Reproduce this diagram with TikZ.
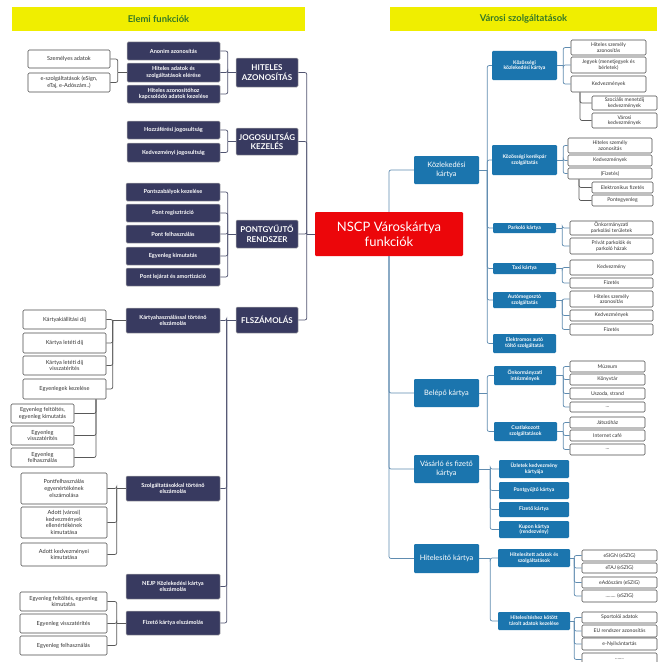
\documentclass[tikz,border=0pt]{standalone}
\usepackage{fontspec}
\setmainfont{Lato}
\definecolor{navybox}{RGB}{56,58,96}
\definecolor{cityblue}{RGB}{27,117,174}
\definecolor{hubred}{RGB}{236,6,10}
\definecolor{bandyellow}{RGB}{240,238,0}
\definecolor{bandgreen}{RGB}{52,120,40}
\definecolor{linenavy}{RGB}{80,84,112}
\definecolor{lineblue}{RGB}{96,140,176}
\tikzset{
  base/.style={rectangle, rounded corners=1.2pt, inner sep=0.5pt, align=center},
  navy/.style={base, fill=navybox, draw=black!30, line width=0.5pt, text=white,
    font=\bfseries\fontsize{5.6}{6.6}\selectfont},
  head/.style={base, fill=navybox, draw=black!30, line width=0.5pt, text=white,
    font=\bfseries\fontsize{8}{9.4}\selectfont},
  wbox/.style={base, fill=white, draw=black!70, line width=0.6pt, text=black!80,
    font=\fontsize{5.6}{6.6}\selectfont},
  wsm/.style={wbox, font=\fontsize{5.1}{5.7}\selectfont},
  bsm/.style={base, fill=cityblue, text=white, font=\bfseries\fontsize{5.1}{5.9}\selectfont},
  bbig/.style={base, fill=cityblue, text=white, font=\fontsize{7.4}{8.8}\selectfont},
  hub/.style={base, fill=hubred, text=white, font=\fontsize{13}{15}\selectfont},
  band/.style={rectangle, fill=bandyellow, text=bandgreen, font=\bfseries\fontsize{9.4}{11}\selectfont},
  lconn/.style={draw=linenavy, line width=0.7pt, rounded corners=2pt},
  rconn/.style={draw=lineblue, line width=0.7pt, rounded corners=2pt},
  kconn/.style={draw=black!65, line width=0.7pt, rounded corners=2pt},
}
% box given by its corners (x1,y1) and (x2,y2), y growing downwards
\newcommand\bx[7]{\node[#1, minimum width={(#5)-(#3)}, minimum height={(#6)-(#4)}]
  (#2) at ({((#3)+(#5))/2},{((#4)+(#6))/2}) {#7};}
\begin{document}
\begin{tikzpicture}[x=1pt,y=-1pt]
\useasboundingbox (0,0) rectangle (663,661);
\fill[white] (0,0) rectangle (663,661);
\clip (0,0) rectangle (663,661);

% ---------- headers ----------
\bx{band}{tl}{12}{7}{305}{31}{Elemi funkciók}
\bx{band}{tr}{390}{7}{657}{31}{Városi szolgáltatások}

% ---------- left: elementary functions ----------
\bx{wbox}{szem}{28}{50}{110}{68}{Személyes adatok}
\bx{wbox}{eszolg}{28}{73}{110}{92}{e-szolgáltatások (eSign,\\eTaj, e-Adószám..)}
\bx{navy}{anon}{127}{42}{220}{60}{Anonim azonosítás}
\bx{navy}{hadat}{127}{63}{220}{82}{Hiteles adatok és\\szolgáltatások elérése}
\bx{navy}{hazon}{127}{85}{220}{103}{Hiteles azonosítóhoz\\kapcsolódó adatok kezelése}
\bx{head}{hitel}{236}{58}{298}{87}{HITELES\\AZONOSÍTÁS}

\bx{navy}{hozz}{127}{121}{220}{139}{Hozzáférési jogosultság}
\bx{navy}{kedvj}{127}{143}{220}{162}{Kedvezményi jogosultság}
\bx{head}{jog}{236}{128}{298}{155}{JOGOSULTSÁG\\KEZELÉS}

\bx{navy}{psz}{126}{183}{220}{201}{Pontszabályok kezelése}
\bx{navy}{preg}{126}{204}{220}{222}{Pont regisztráció}
\bx{navy}{pfel}{126}{225}{220}{243}{Pont felhasználás}
\bx{navy}{pegy}{126}{247}{220}{265}{Egyenleg kimutatás}
\bx{navy}{plej}{126}{268}{220}{286}{Pont lejárat és amortizáció}
\bx{head}{pont}{236}{220}{298}{248}{PONTGYŰJTŐ\\RENDSZER}

\bx{hub}{nscp}{315}{212}{463}{256}{NSCP Városkártya\\funkciók}

\bx{head}{elsz}{236}{307}{298}{333}{FLSZÁMOLÁS}
\bx{navy}{khaszn}{126}{308}{220}{333}{Kártyahasználással történő\\elszámolás}
\bx{wbox}{kkiall}{23}{310}{106}{329}{Kártyakiállítási díj}
\bx{wbox}{klet}{23}{333}{106}{353}{Kártya letéti díj}
\bx{wbox}{kletv}{23}{356}{106}{375}{Kártya letéti díj\\visszatérítés}
\bx{wbox}{egyk}{23}{379}{106}{399}{Egyenlegek kezelése}
\bx{wbox}{ef}{11}{404}{74}{423}{Egyenleg feltöltés,\\egyenleg kimutatás}
\bx{wbox}{ev}{11}{426}{74}{445}{Egyenleg\\visszatérítés}
\bx{wbox}{efh}{11}{448}{74}{467}{Egyenleg\\felhasználás}

\bx{navy}{szolg}{126}{476}{220}{501}{Szolgáltatásokkal történő\\elszámolás}
\bx{wbox}{pfh}{21}{473}{107}{504}{Pontfelhasználás\\egyenértékének\\elszámolása}
\bx{wbox}{adott}{21}{507}{107}{538}{Adott (városi)\\kedvezmények\\ellenértékének\\kimutatása}
\bx{wbox}{adk}{21}{543}{107}{566}{Adott kedvezményei\\kimutatása}

\bx{navy}{nejp}{126}{574}{220}{599}{NEJP Közlekedési kártya\\elszámolás}
\bx{navy}{fiz}{126}{611}{220}{635}{Fizető kártya elszámolás}
\bx{wbox}{fe1}{20}{592}{107}{611}{Egyenleg feltöltés, egyenleg\\kimutatás}
\bx{wbox}{fe2}{20}{614}{107}{633}{Egyenleg visszatérítés}
\bx{wbox}{fe3}{20}{636}{107}{655}{Egyenleg felhasználás}

% ---------- right: city services ----------
\bx{bbig}{kozl}{414}{156}{479}{184}{Közlekedési\\kártya}
\bx{bsm}{kozk}{492}{51}{557}{80}{Közösségi\\közlekedési kártya}
\bx{wsm}{k1}{571}{40}{646}{55}{Hiteles személy\\azonosítás}
\bx{wsm}{k2}{571}{57}{646}{73}{Jegyek (menetjegyek és\\bérletek)}
\bx{wsm}{k3}{571}{76}{646}{92}{Kedvezmények}
\bx{wsm}{k4}{592}{96}{657}{110}{Szociális menetdíj\\kedvezmények}
\bx{wsm}{k5}{592}{113}{657}{128}{Városi\\kedvezmények}

\bx{bsm}{ker}{492}{145}{557}{175}{Közösségi kerékpár\\szolgáltatás}
\bx{wsm}{r1}{568}{138}{652}{153}{Hiteles személy\\azonosítás}
\bx{wsm}{r2}{568}{155}{652}{166}{Kedvezmények}
\bx{wsm}{r3}{568}{168}{652}{179}{(Fizetés)}
\bx{wsm}{r4}{592}{182}{653}{193}{Elektronikus fizetés}
\bx{wsm}{r5}{592}{195}{653}{206}{Pontegyenleg}

\bx{bsm}{park}{493}{223}{556}{233}{Parkoló kártya}
\bx{wsm}{p1}{570}{221}{653}{235}{Önkormányzati\\parkolási területek}
\bx{wsm}{p2}{570}{238}{653}{254}{Privát parkolók és\\parkoló házak}

\bx{bsm}{taxi}{493}{263}{556}{274}{Taxi kártya}
\bx{wsm}{t1}{570}{260}{653}{275}{Kedvezmény}
\bx{wsm}{t2}{570}{278}{653}{288}{Fizetés}

\bx{bsm}{auto}{493}{292}{556}{308}{Autómegosztó\\szolgáltatás}
\bx{wsm}{a1}{570}{291}{653}{307}{Hiteles személy\\azonosítás}
\bx{wsm}{a2}{570}{310}{653}{321}{Kedvezmények}
\bx{wsm}{a3}{570}{324}{653}{335}{Fizetés}

\bx{bsm}{elek}{493}{334}{556}{353}{Elektromos autó\\töltő szolgáltatás}

\bx{bbig}{belep}{414}{379}{479}{407}{Belépő kártya}
\bx{bsm}{onk}{494}{366}{556}{385}{Önkormányzati\\intézmények}
\bx{wsm}{o1}{570}{361}{645}{372}{Múzeum}
\bx{wsm}{o2}{570}{374}{645}{385}{Könyvtár}
\bx{wsm}{o3}{570}{388}{645}{399}{Uszoda, strand}
\bx{wsm}{o4}{570}{402}{645}{412}{…}
\bx{bsm}{csat}{494}{422}{557}{441}{Csatlakozott\\szolgáltatások}
\bx{wsm}{c1}{570}{417}{645}{428}{Játszóház}
\bx{wsm}{c2}{570}{430}{645}{441}{Internet café}
\bx{wsm}{c3}{570}{444}{645}{455}{…}

\bx{bbig}{vasar}{414}{455}{479}{483}{Vásárló és fizető\\kártya}
\bx{bsm}{v1}{499}{460}{569}{478}{Üzletek kedvezmény\\kártyája}
\bx{bsm}{v2}{499}{482}{569}{499}{Pontgyűjtő kártya}
\bx{bsm}{v3}{499}{502}{569}{517}{Fizető kártya}
\bx{bsm}{v4}{499}{521}{569}{538}{Kupon kártya\\(rendezvény)}

\bx{bbig}{hitk}{414}{544}{479}{573}{Hitelesítő kártya}
\bx{bsm}{h1}{498}{549}{570}{567}{Hitelesített adatok és\\szolgáltatások}
\bx{wsm}{h1a}{582}{550}{657}{561}{eSIGN (eSZIG)}
\bx{wsm}{h1b}{582}{563}{657}{573}{eTAJ (eSZIG)}
\bx{wsm}{h1c}{582}{577}{657}{588}{eAdószám (eSZIG)}
\bx{wsm}{h1d}{582}{590}{657}{602}{…….. (eSZIG)}
\bx{bsm}{h2}{498}{612}{570}{630}{Hitelesítéshez kötött\\tárolt adatok kezelése}
\bx{wsm}{h2a}{582}{612}{657}{623}{Sportolói adatok}
\bx{wsm}{h2b}{582}{625}{657}{637}{EU rendszer azonosítás}
\bx{wsm}{h2c}{582}{638}{657}{650}{e-Nyilvántartás}
\bx{wsm}{h2d}{582}{653}{657}{666}{…….}

% ---------- left connectors ----------
\draw[lconn] (nscp.west) -- ++(-8,0) coordinate (jl);
\foreach \c in {hitel,jog,pont,elsz} \draw[lconn] (jl) |- (\c.east);

\draw[lconn] (hitel.west) -- ++(-8,0) coordinate (jh);
\foreach \c in {anon,hadat,hazon} \draw[lconn] (jh) |- (\c.east);
\draw[kconn] (hadat.west) -- ++(-9,0) coordinate (jp);
\foreach \c in {szem,eszolg} \draw[kconn] (jp) |- (\c.east);

\draw[lconn] (jog.west) -- ++(-8,0) coordinate (jj);
\foreach \c in {hozz,kedvj} \draw[lconn] (jj) |- (\c.east);

\draw[lconn] (pont.west) -- ++(-8,0) coordinate (jpt);
\foreach \c in {psz,preg,pfel,pegy,plej} \draw[lconn] (jpt) |- (\c.east);

\draw[lconn] (elsz.west) -- ++(-9,0) coordinate (je);
\foreach \c in {khaszn,szolg,nejp,fiz} \draw[lconn] (je) |- (\c.east);

\draw[kconn] (khaszn.west) -- ++(-13,0) coordinate (jk);
\foreach \c in {kkiall,klet,kletv,egyk} \draw[kconn] (jk) |- (\c.east);
\coordinate (ekx) at (96,0);
\foreach \c in {ef,ev,efh} \draw[kconn] (ekx |- egyk.south) |- (\c.east);

\draw[kconn] (szolg.west) -- ++(-9,0) coordinate (js);
\foreach \c in {pfh,adott,adk} \draw[kconn] (js) |- (\c.east);

\draw[kconn] (fiz.west) -- ++(-9,0) coordinate (jf);
\foreach \c in {fe1,fe2,fe3} \draw[kconn] (jf) |- (\c.east);

% ---------- right connectors ----------
\draw[rconn] (nscp.north) |- (kozl.west);
\foreach \c in {belep,vasar,hitk} \draw[rconn] (nscp.south) |- (\c.west);

\draw[rconn] (kozl.east) -- ++(8,0) coordinate (jz);
\foreach \c in {kozk,ker,park,taxi,auto,elek} \draw[rconn] (jz) |- (\c.west);

\draw[rconn] (kozk.east) -- ++(6,0) coordinate (jq);
\foreach \c in {k1,k2,k3} \draw[rconn] (jq) |- (\c.west);
\coordinate (kvx) at (580,0);
\foreach \c in {k4,k5} \draw[kconn] (kvx |- k3.south) |- (\c.west);

\draw[rconn] (ker.east) -- ++(6,0) coordinate (jr);
\foreach \c in {r1,r2,r3} \draw[rconn] (jr) |- (\c.west);
\coordinate (fzx) at (579,0);
\foreach \c in {r4,r5} \draw[kconn] (fzx |- r3.south) |- (\c.west);

\draw[rconn] (park.east) -- ++(6,0) coordinate (jpk);
\foreach \c in {p1,p2} \draw[rconn] (jpk) |- (\c.west);
\draw[rconn] (taxi.east) -- ++(6,0) coordinate (jt);
\foreach \c in {t1,t2} \draw[rconn] (jt) |- (\c.west);
\draw[rconn] (auto.east) -- ++(6,0) coordinate (ja);
\foreach \c in {a1,a2,a3} \draw[rconn] (ja) |- (\c.west);

\draw[rconn] (belep.east) -- ++(8,0) coordinate (jb);
\foreach \c in {onk,csat} \draw[rconn] (jb) |- (\c.west);
\draw[rconn] (onk.east) -- ++(7,0) coordinate (jo);
\foreach \c in {o1,o2,o3,o4} \draw[rconn] (jo) |- (\c.west);
\draw[rconn] (csat.east) -- ++(6,0) coordinate (jc);
\foreach \c in {c1,c2,c3} \draw[rconn] (jc) |- (\c.west);

\draw[rconn] (vasar.east) -- ++(11,0) coordinate (jv);
\foreach \c in {v1,v2,v3,v4} \draw[rconn] (jv) |- (\c.west);

\draw[rconn] (hitk.east) -- ++(11,0) coordinate (jhk);
\foreach \c in {h1,h2} \draw[rconn] (jhk) |- (\c.west);
\draw[rconn] (h1.east) -- ++(4,0) coordinate (jh1);
\foreach \c in {h1a,h1b,h1c,h1d} \draw[rconn] (jh1) |- (\c.west);
\draw[rconn] (h2.east) -- ++(4,0) coordinate (jh2);
\foreach \c in {h2a,h2b,h2c,h2d} \draw[rconn] (jh2) |- (\c.west);
\end{tikzpicture}
\end{document}
